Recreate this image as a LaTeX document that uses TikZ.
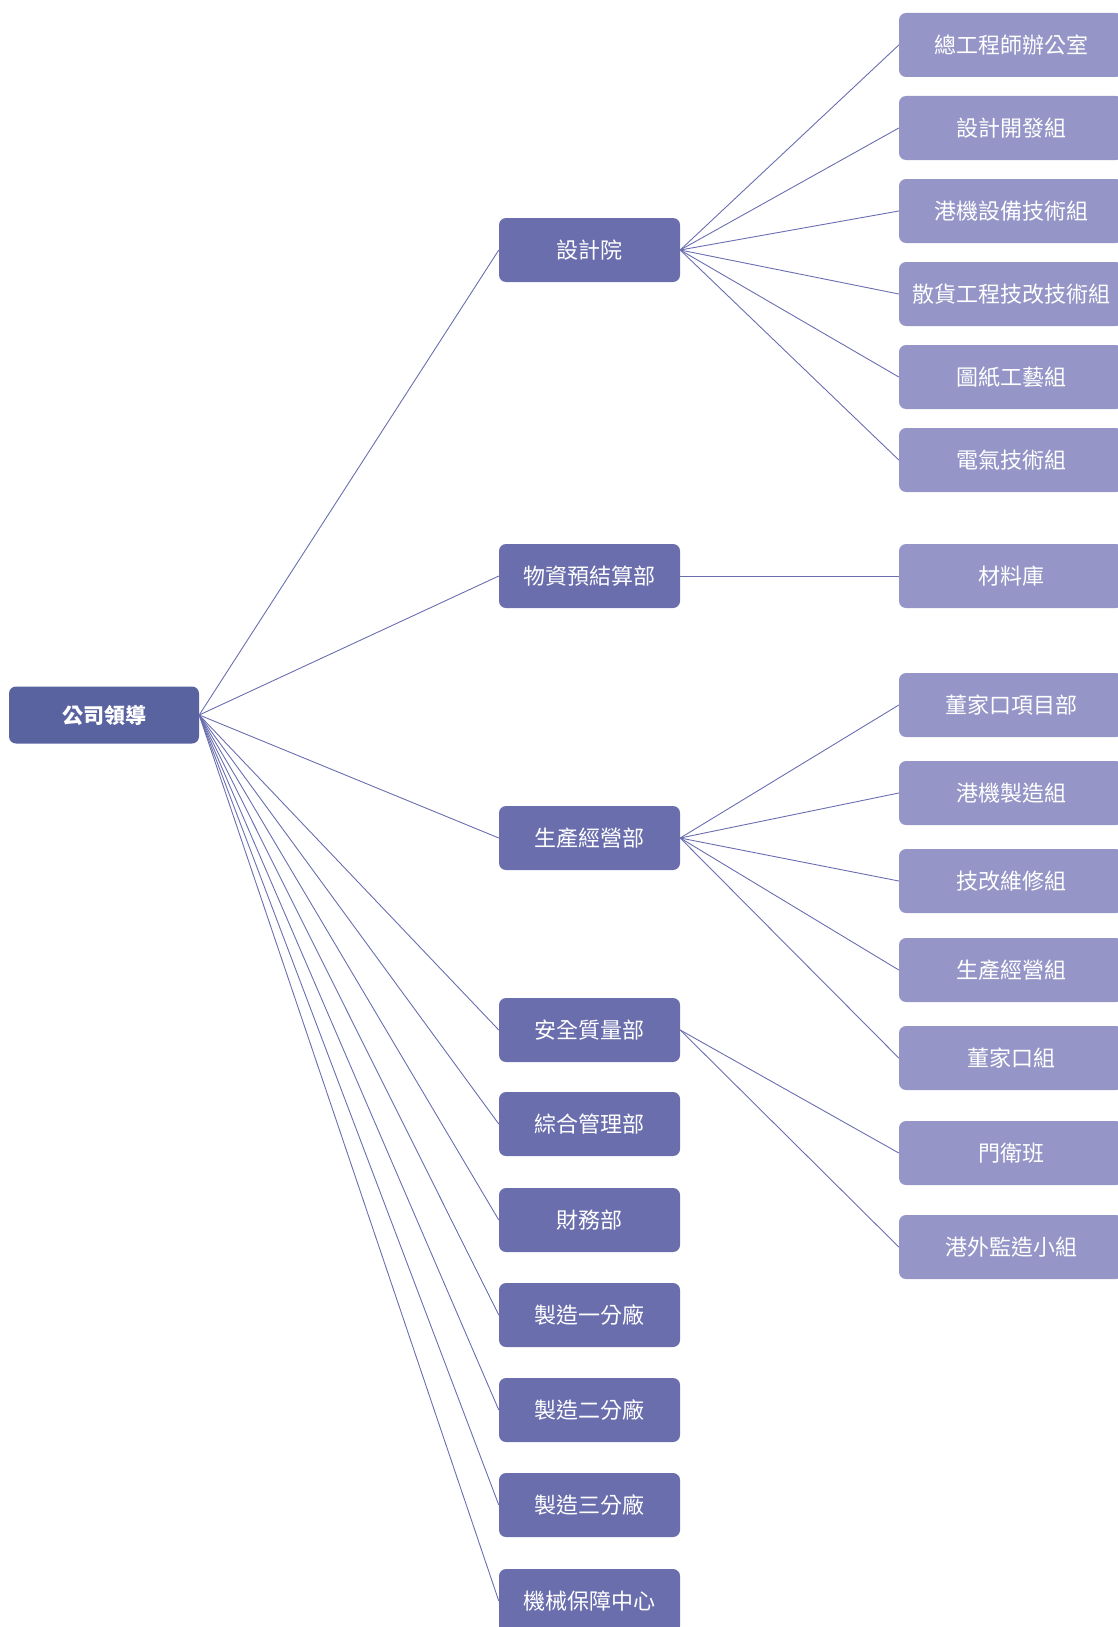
\documentclass[tikz,border=0pt]{standalone}
\usepackage{fontspec}
\newfontfamily\cjk{Noto Sans CJK TC}
\definecolor{rootblue}{RGB}{89,99,160}
\definecolor{deptblue}{RGB}{106,110,173}
\definecolor{groupblue}{RGB}{149,150,199}
\definecolor{linkblue}{RGB}{106,110,176}
\tikzset{
  box/.style={rounded corners=7pt, inner sep=0pt, text=white,
    font=\cjk\fontsize{22}{22}\selectfont},
  rootbox/.style={box, fill=rootblue, minimum width=190pt, minimum height=57pt,
    font=\cjk\bfseries\fontsize{21}{21}\selectfont},
  deptbox/.style={box, fill=deptblue, minimum width=181pt, minimum height=64pt},
  groupbox/.style={box, fill=groupblue, minimum width=224pt, minimum height=64pt},
  link/.style={draw=linkblue, line width=0.9pt}
}
\begin{document}
\begin{tikzpicture}[x=1pt,y=-1pt]
\useasboundingbox (0,0) rectangle (1117,1627);
% root
\node [rootbox] (lead) at (104,715) {公司領導};
% departments
\node [deptbox] (design) at (589.5,250) {設計院};
\node [deptbox] (supply) at (589.5,576) {物資預結算部};
\node [deptbox] (prod) at (589.5,838) {生產經營部};
\node [deptbox] (safety) at (589.5,1030) {安全質量部};
\node [deptbox] (admin) at (589.5,1124) {綜合管理部};
\node [deptbox] (finance) at (589.5,1220) {財務部};
\node [deptbox] (plantA) at (589.5,1315) {製造一分廠};
\node [deptbox] (plantB) at (589.5,1410) {製造二分廠};
\node [deptbox] (plantC) at (589.5,1505) {製造三分廠};
\node [deptbox] (mech) at (589.5,1601) {機械保障中心};
% groups
\node [groupbox] (chief) at (1011,45) {總工程師辦公室};
\node [groupbox] (devel) at (1011,128) {設計開發組};
\node [groupbox] (crane) at (1011,211) {港機設備技術組};
\node [groupbox] (bulk) at (1011,294) {散貨工程技改技術組};
\node [groupbox] (drawing) at (1011,377) {圖紙工藝組};
\node [groupbox] (elec) at (1011,460) {電氣技術組};
\node [groupbox] (store) at (1011,576) {材料庫};
\node [groupbox] (dongproj) at (1011,705) {董家口項目部};
\node [groupbox] (cranemfg) at (1011,793) {港機製造組};
\node [groupbox] (repair) at (1011,881) {技改維修組};
\node [groupbox] (prodgrp) at (1011,970) {生產經營組};
\node [groupbox] (dong) at (1011,1058) {董家口組};
\node [groupbox] (guard) at (1011,1153) {門衛班};
\node [groupbox] (supervise) at (1011,1247) {港外監造小組};
% links
\foreach \d in {design,supply,prod,safety,admin,finance,plantA,plantB,plantC,mech}
  \draw [link] (lead.east) -- (\d.west);
\foreach \g in {chief,devel,crane,bulk,drawing,elec}
  \draw [link] (design.east) -- (\g.west);
\draw [link] (supply.east) -- (store.west);
\foreach \g in {dongproj,cranemfg,repair,prodgrp,dong}
  \draw [link] (prod.east) -- (\g.west);
\foreach \g in {guard,supervise}
  \draw [link] (safety.east) -- (\g.west);
\end{tikzpicture}
\end{document}
